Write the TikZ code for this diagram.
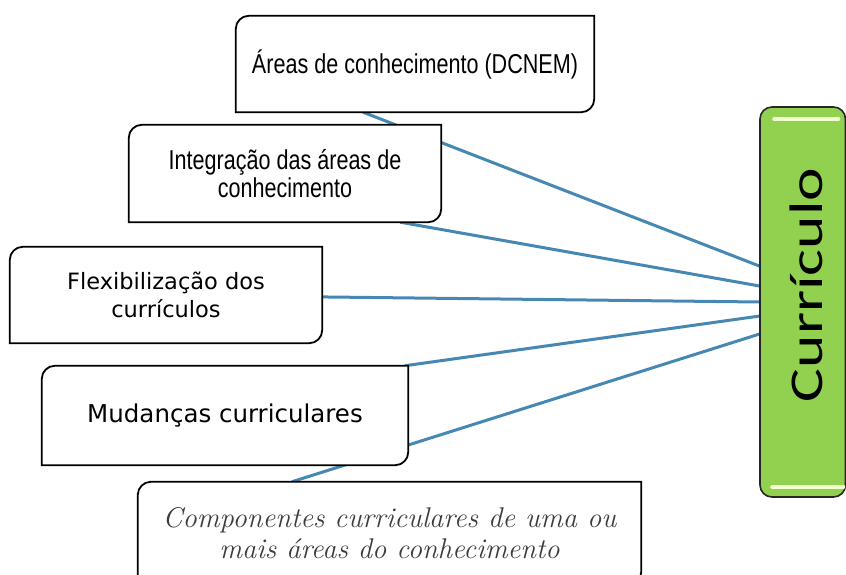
\documentclass[tikz,border=0pt]{standalone}
\usepackage{fontspec}
\usetikzlibrary{calc}
\newfontfamily\narrowfont[FakeStretch=0.79]{Liberation Sans}
\newfontfamily\widefont{DejaVu Sans}
\newfontfamily\curfont[FakeStretch=1.35]{Carlito}
\definecolor{linkblue}{RGB}{70,135,180}
\definecolor{curgreen}{RGB}{146,208,80}
\definecolor{glow}{RGB}{240,255,205}
\definecolor{handgray}{RGB}{60,60,60}
\pgfdeclarelayer{bg}
\pgfsetlayers{bg,main}
\tikzset{
  conceptbox/.style={fill=white, draw=none, inner sep=0pt, align=center, text=black},
  boxborder/.style={draw=black, line width=1.8pt},
  link/.style={draw=linkblue, line width=3pt},
  glowline/.style={draw=glow, line width=4pt, line cap=round},
}
\newcommand{\diagframe}[1]{%
  \draw[boxborder] (#1.west) [rounded corners=13pt] -- (#1.north west) -- (#1.north)
    [sharp corners] -- (#1.north east) -- (#1.east)
    [rounded corners=13pt] -- (#1.south east) -- (#1.south)
    [sharp corners] -- (#1.south west) -- cycle;}
\begin{document}
\begin{tikzpicture}[x=1pt,y=-1pt]
\useasboundingbox (0,0) rectangle (846,575);
% concept boxes
\node[conceptbox, minimum width=358pt, minimum height=96pt,
  font=\narrowfont\fontsize{27.3}{28}\selectfont] (b1) at (415,64) {Áreas de conhecimento (DCNEM)};
\node[conceptbox, minimum width=312pt, minimum height=97pt,
  font=\narrowfont\fontsize{27.3}{28}\selectfont] (b2) at (285,173.5) {Integração das áreas de\\conhecimento};
\node[conceptbox, minimum width=312pt, minimum height=96pt,
  font=\widefont\fontsize{22.5}{28}\selectfont] (b3) at (166,295) {Flexibilização dos\\currículos};
\node[conceptbox, minimum width=366pt, minimum height=99pt,
  font=\widefont\fontsize{24.5}{28}\selectfont] (b4) at (225,415.5) {Mudanças curriculares};
\node[conceptbox, minimum width=503pt, minimum height=103pt, text=handgray,
  font=\itshape\fontsize{28.5}{31}\selectfont] (b5) at (389.5,533.5) {Componentes curriculares de uma ou\\mais áreas do conhecimento};
\foreach \n in {b1,b2,b3,b4,b5}{\diagframe{\n}}
% Curriculo box
\node[draw=black!85, line width=1.6pt, fill=curgreen, rounded corners=12pt,
  minimum width=85.5pt, minimum height=390pt, inner sep=0pt] (cur) at (802.75,302) {};
\draw[glowline] ([xshift=15pt,yshift=-13pt]cur.north west) -- ([xshift=-8pt,yshift=-13pt]cur.north east);
\draw[glowline] ([xshift=13pt,yshift=11pt]cur.south west) -- ([xshift=-3pt,yshift=11pt]cur.south east);
\node[rotate=90, inner sep=0pt, font=\curfont\fontsize{47}{50}\selectfont] (curtext) at (806,285) {Currículo};
% connectors
\begin{pgfonlayer}{bg}
\draw[link] ($(b1.south west)!0.355!(b1.south east)$) -- ($(cur.north west)!0.408!(cur.south west)$);
\draw[link] ($(b2.south west)!0.869!(b2.south east)$) -- ($(cur.north west)!0.459!(cur.south west)$);
\draw[link] ($(b3.north east)!0.52!(b3.south east)$) -- ($(cur.north west)!0.5!(cur.south west)$);
\draw[link] ($(b4.north west)!0.99!(b4.north east)$) -- ($(cur.north west)!0.536!(cur.south west)$);
\draw[link] ($(b5.north west)!0.306!(b5.north east)$) -- ($(cur.north west)!0.582!(cur.south west)$);
\end{pgfonlayer}
\end{tikzpicture}
\end{document}
